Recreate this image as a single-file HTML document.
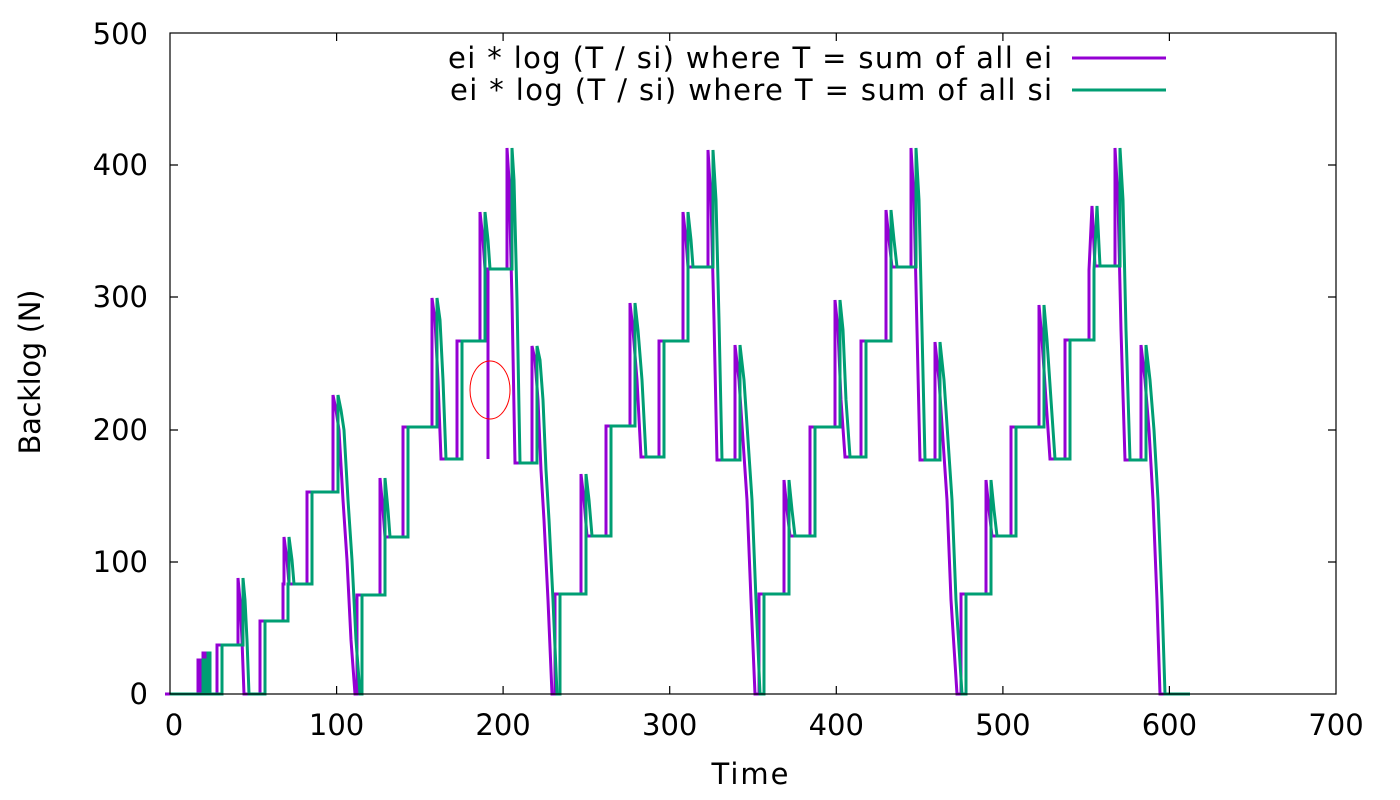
<!DOCTYPE html>
<html><head><meta charset="utf-8"><style>
body{margin:0;background:#fff}
svg{display:block;font-family:"DejaVu Sans","Liberation Sans",sans-serif}
</style></head><body>
<svg width="1400" height="800" viewBox="0 0 1400 800" xmlns="http://www.w3.org/2000/svg">
<rect width="1400" height="800" fill="#fff"/>
<defs>
<path id="g" d="M170,694 H203 V660 H206 V694 H208 V653 H210 V694 H222 V645 H243 V578 L245,600 L247,640 L249,694 H265 V621 H288 V584 H289 V537 L292,560 L294,584 H312 V492 H338 V395 L341,410 L344,430 L348,500 L352,560 L356,640 L360,694 H362 V595 H385 V478 L388,510 L390,537 H408 V427 H437 V298 L440,320 L443,380 L446,459 H462 V341 H485 V212 L488,240 L490,269 H512 V148 L514,180 L517,300 L520,463 H537 V346 L540,360 L543,400 L546,470 L549,520 L553,600 L557,694 H560 V594 H586 V474 L589,500 L592,536 H611 V426 H635 V303 L638,330 L642,380 L646,457 H664 V341 H688 V212 L691,240 L693,267 H713 V150 L716,200 L719,320 L722,460 H740 V345 L744,380 L748,440 L752,500 L756,600 L760,694 H764 V594 H789 V480 L792,510 L795,536 H815 V427 H840 V300 L843,330 L846,400 L850,457 H866 V341 H891 V210 L894,240 L897,267 H916 V148 L919,200 L922,330 L925,460 H940 V342 L944,380 L948,440 L952,500 L956,600 L962,694 H966 V594 H991 V480 L994,510 L997,536 H1016 V427 H1044 V305 L1047,340 L1051,400 L1055,459 H1070 V340 H1094 V270 L1097,206 L1100,266 H1120 V148 L1123,200 L1126,330 L1130,460 H1146 V345 L1150,380 L1154,430 L1158,500 L1162,600 L1165,694 H1190"/>
</defs>
<g fill="none" stroke-width="3">
<use href="#g" stroke="#9400d3" transform="translate(-5,0)"/>
<path d="M488,269 V459 M486,269 V340" stroke="#9400d3"/>
<use href="#g" stroke="#009e73"/>
</g>
<ellipse cx="490" cy="390" rx="20" ry="29" fill="none" stroke="#ff0000" stroke-width="1"/>
<g stroke="#000" stroke-width="1.2" fill="none">
<rect x="170" y="33" width="1166" height="661"/>
<path d="M170,562h8M170,430h8M170,297h8M170,165h8M1336,562h-8M1336,430h-8M1336,297h-8M1336,165h-8
M336.6,694v-8M503.1,694v-8M669.7,694v-8M836.3,694v-8M1002.9,694v-8M1169.4,694v-8
M336.6,33v8M503.1,33v8M669.7,33v8M836.3,33v8M1002.9,33v8M1169.4,33v8"/>
</g>
<g font-size="29" fill="#000">
<g text-anchor="end">
<text x="148" y="704">0</text><text x="148" y="572">100</text><text x="148" y="440">200</text>
<text x="148" y="307">300</text><text x="148" y="175">400</text><text x="148" y="44">500</text>
</g>
<g text-anchor="middle">
<text x="174" y="735">0</text><text x="336.6" y="735">100</text><text x="503.1" y="735">200</text>
<text x="669.7" y="735">300</text><text x="836.3" y="735">400</text><text x="1002.9" y="735">500</text>
<text x="1169.4" y="735">600</text><text x="1336" y="735">700</text>
<text x="750" y="784" textLength="77">Time</text>
<text transform="translate(40,372) rotate(-90)" textLength="165">Backlog (N)</text>
</g>
<text x="448" y="68" textLength="604">ei * log (T / si) where T = sum of all ei</text>
<text x="450" y="100" textLength="602">ei * log (T / si) where T = sum of all si</text>
</g>
<path d="M1072,58H1166" stroke="#9400d3" stroke-width="3"/>
<path d="M1072,90H1166" stroke="#009e73" stroke-width="3"/>
</svg>
</body></html>
